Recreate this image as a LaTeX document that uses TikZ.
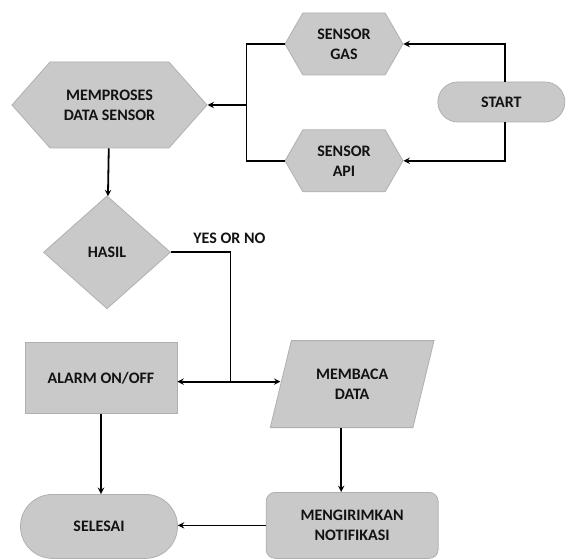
\documentclass[tikz,border=0pt]{standalone}
\usepackage{fontspec}
\setmainfont{Carlito}
\usepackage{tikz}
\usetikzlibrary{shapes,arrows,positioning,calc}

\definecolor{boxfill}{RGB}{201,201,201}
\definecolor{boxline}{RGB}{176,176,176}
\definecolor{boxtext}{RGB}{18,18,18}

\begin{document}
\begin{tikzpicture}[
    node distance=40pt and 40pt,
    base/.style={draw=boxline,fill=boxfill,line width=0.8pt,text=boxtext,
                 font=\fontsize{16}{20}\selectfont\bfseries,align=center,inner sep=2pt},
    hexa/.style={base,signal,signal to=east and west},
    term/.style={base,rounded rectangle},
    box/.style={base,rectangle},
    rbox/.style={base,rectangle,rounded corners=9pt},
    decision/.style={base,diamond,inner sep=0pt},
    io/.style={base,trapezium,trapezium left angle=69,trapezium right angle=111,
               trapezium stretches=true},
    arr/.style={->,>=stealth,line width=1.8pt},
    line/.style={line width=1.8pt},
    yesno/.style={font=\fontsize{16}{20}\selectfont\bfseries,text=boxtext}
]
\useasboundingbox (0,0) rectangle (568pt,-559pt);

\node[hexa,minimum width=195pt,minimum height=86pt,signal pointer angle=97] (proses) at (109.5pt,-105pt) {MEMPROSES\\DATA SENSOR};
\node[hexa,minimum width=118pt,minimum height=62pt,signal pointer angle=120,right=77pt of proses,yshift=61pt] (gas) {SENSOR\\GAS};
\node[hexa,minimum width=118pt,minimum height=62pt,signal pointer angle=120,below=54pt of gas] (api) {SENSOR\\API};
\node[term,minimum width=131pt,minimum height=40pt,right=34pt of gas,yshift=-58pt] (start) {START};
\node[decision,minimum width=127pt,minimum height=113pt,below=47pt of proses,xshift=-2.5pt] (hasil) {HASIL};
\node[box,minimum width=152pt,minimum height=71pt,below=33pt of hasil,xshift=-6pt] (alarm) {ALARM ON/OFF};
\node[term,minimum width=161pt,minimum height=64pt,below=80pt of alarm,xshift=-2pt] (selesai) {SELESAI};
\node[io,minimum width=164pt,minimum height=87pt,right=103pt of alarm,yshift=-6pt] (baca) {MEMBACA\\DATA};
\node[rbox,minimum width=172pt,minimum height=66pt,below=64pt of baca] (kirim) {MENGIRIMKAN\\NOTIFIKASI};

\coordinate[right=39pt of proses.east] (split);
\coordinate[right=53pt of alarm.east,yshift=-3.5pt] (fork);

\draw[arr] ([xshift=4pt]start.north) |- (gas.east);
\draw[arr] ([xshift=4pt]start.south) |- (api.east);
\draw[line] (gas.west) -| (split) |- (api.west);
\draw[arr] (split) -- (proses.east);
\draw[arr] (proses) -- (hasil);
\draw[line] (hasil.east) -| node[yesno,pos=0.5,above,xshift=-1pt,yshift=4pt] (yn) {YES OR NO} (fork);
\draw[arr] (fork) -- (fork -| alarm.east);
\draw[arr] (fork) -- (fork -| baca.west);
\draw[arr] ([xshift=-11pt]baca.south) -- ([xshift=-11pt]baca.south |- kirim.north);
\draw[arr] (alarm.south) -- (alarm.south |- selesai.north);
\draw[arr] (kirim.west) -- (kirim.west -| selesai.east);
\end{tikzpicture}
\end{document}
